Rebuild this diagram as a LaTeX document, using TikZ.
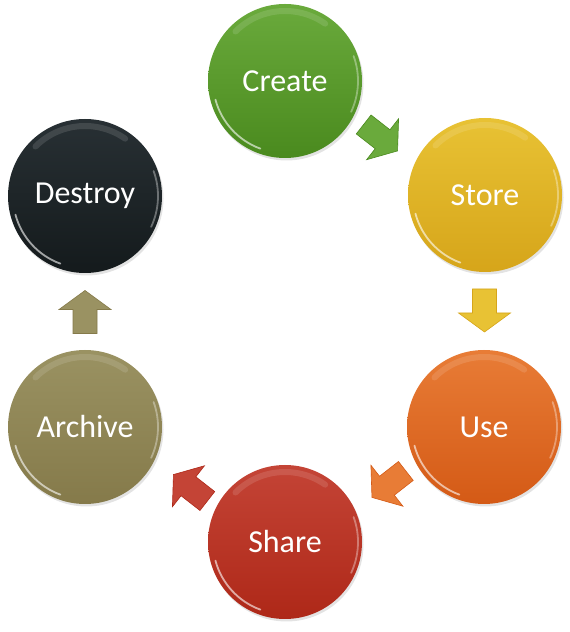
\documentclass[tikz,border=0pt]{standalone}
\usepackage{fontspec}
\setmainfont{Carlito}
\usetikzlibrary{shadows,calc}
\definecolor{gTop}{HTML}{6AAA3C}\definecolor{gBot}{HTML}{4A8A1E}
\definecolor{yTop}{HTML}{E8C234}\definecolor{yBot}{HTML}{D6A51A}
\definecolor{oTop}{HTML}{E87C36}\definecolor{oBot}{HTML}{D45A16}
\definecolor{rTop}{HTML}{C44436}\definecolor{rBot}{HTML}{AE2818}
\definecolor{aTop}{HTML}{9A9262}\definecolor{aBot}{HTML}{857A4A}
\definecolor{dTop}{HTML}{283034}\definecolor{dBot}{HTML}{141A1C}
\tikzset{
  stage/.style={circle, minimum size=154pt, inner sep=0pt, text=white,
    font=\fontsize{32}{36}\selectfont,
    top color=#1Top, bottom color=#1Bot,
    drop shadow={opacity=0.22, shadow xshift=1.5pt, shadow yshift=-2.5pt}},
  blockarrow/.style={fill=#1Top, draw=#1Bot, line width=0.6pt, line join=miter},
  rimlight/.style={white, line width=1.8pt, opacity=0.6, line cap=round},
  toplight/.style={white, line width=6pt, opacity=0.12, line cap=round}
}
\newcommand{\shineon}[1]{%
  \draw[rimlight] ([shift={(195:72)}]#1.center) arc[start angle=195, end angle=250, radius=72];
  \draw[rimlight, opacity=0.35] ([shift={(-25:73)}]#1.center) arc[start angle=-25, end angle=20, radius=73];
  \draw[toplight] ([shift={(55:70)}]#1.center) arc[start angle=55, end angle=135, radius=70];
}
\newcommand{\blockarr}[3]{%
  \filldraw[blockarrow=#1, shift={#2}, rotate=#3]
    (-22,-12) -- (2,-12) -- (2,-26) -- (21,0) -- (2,26) -- (2,12) -- (-22,12) -- cycle;
}
\begin{document}
\begin{tikzpicture}[x=1pt,y=1pt]
\useasboundingbox (0,0) rectangle (570,632);
\node[stage=g] (create)  at (285,551) {Create};
\node[stage=y] (store)   at (485,437) {Store};
\node[stage=o] (use)     at (484,205) {Use};
\node[stage=r] (share)   at (285,90)  {Share};
\node[stage=a] (archive) at (85,205)  {Archive};
\node[stage=d] (destroy) at (85,436)  {Destroy};
\foreach \n in {create,store,use,share,archive,destroy}{\shineon{\n}}
\coordinate (m1) at ($(create)!0.5!(store)+(-4,0)$);
\coordinate (m2) at ($(store)!0.5!(use)$);
\coordinate (m3) at ($(use)!0.5!(share)+(4,0)$);
\coordinate (m4) at ($(share)!0.5!(archive)+(5,-3)$);
\coordinate (m5) at ($(archive)!0.5!(destroy)$);
\blockarr{g}{(m1)}{-38}
\blockarr{y}{(m2)}{-90}
\blockarr{o}{(m3)}{-142}
\blockarr{r}{(m4)}{142}
\blockarr{a}{(m5)}{90}
\end{tikzpicture}
\end{document}
